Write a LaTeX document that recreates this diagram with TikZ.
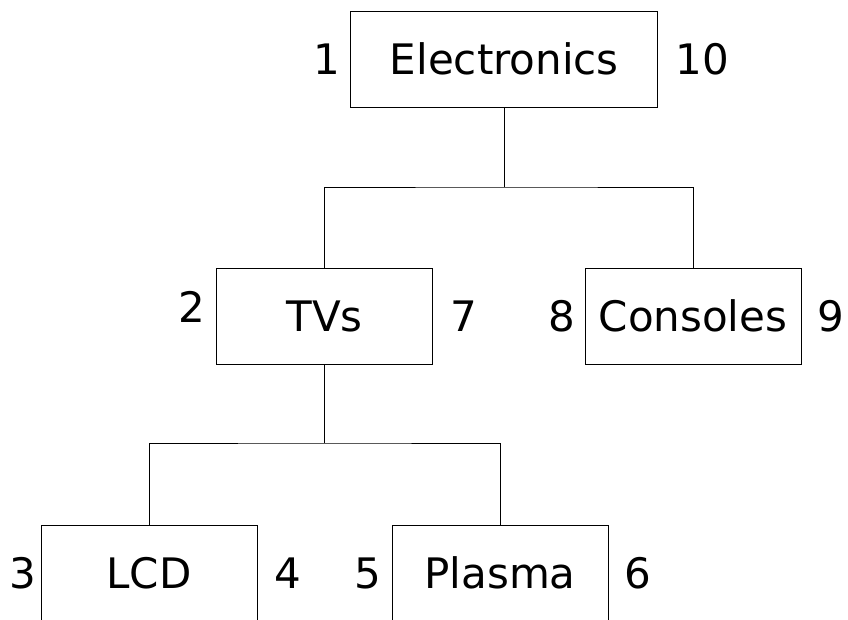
\documentclass[tikz,border=0pt]{standalone}
\usepackage{fontspec}
\setmainfont{DejaVu Sans}
\begin{document}
\begin{tikzpicture}[x=1pt,y=-1pt,
  box/.style={draw=black, line width=1pt, minimum width=216pt, minimum height=96pt,
    inner sep=0pt, text height=30.7pt, text depth=0pt, font=\fontsize{42}{50}\selectfont},
  num/.style={anchor=base, inner sep=0pt, font=\fontsize{42}{50}\selectfont},
  conn/.style={draw=black, line width=1pt}]
\useasboundingbox (0,0) rectangle (848,619);
\clip (0,0) rectangle (848,619);
\node[box, minimum width=307pt] (E) at (504.3,59) {Electronics};
\node[box] (T) at (324.7,316) {TVs};
\node[box] (C) at (693,316) {Consoles};
\node[box] (L) at (149,573) {LCD};
\node[box] (P) at (500,573) {Plasma};
\node[num] (n1) at (327,74) {1};
\node[num] (n10) at (702,74) {10};
\node[num] (n2) at (191.5,322) {2};
\node[num] (n7) at (463.5,331) {7};
\node[num] (n8) at (562,331) {8};
\node[num] (n9) at (831,331) {9};
\node[num] (n3) at (22.5,588) {3};
\node[num] (n4) at (288,588) {4};
\node[num] (n5) at (368,588) {5};
\node[num] (n6) at (637.5,588) {6};
\coordinate (j1) at (504.3,187);
\coordinate (j2) at (324.7,443);
\draw[conn] (E.south) -- (j1);
\draw[conn] (T.north) |- (j1) -| (C.north);
\draw[conn] (T.south) -- (j2);
\draw[conn] (L.north) |- (j2) -| (P.north);
\end{tikzpicture}
\end{document}
